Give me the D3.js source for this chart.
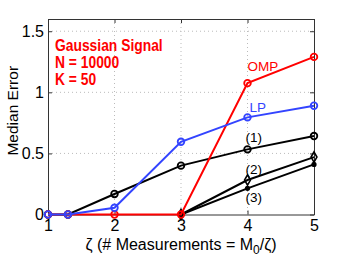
<!DOCTYPE html>
<html><head><meta charset="utf-8">
<script src="https://cdn.jsdelivr.net/npm/d3@7"></script>
<style>body{margin:0;background:#fff}svg{display:block;font-family:"Liberation Sans",Arial,sans-serif}</style>
</head><body><svg id="c" width="346" height="260"></svg>
<script>
const xTicks = [1, 2, 3, 4, 5];
const yTicks = [0, 0.5, 1, 1.5];
const yTickLabels = ["0", "0.5", "1", "1.5"];
const xOMP = [1, 1.3, 2, 3, 4, 5];
const yOMP = [0, 0, 0, 0, 1.075, 1.29];
const xLP = [1, 1.3, 2, 3, 4, 5];
const yLP = [0, 0, 0.055, 0.595, 0.795, 0.89];
const x1 = [1, 1.3, 2, 3, 4, 5];
const y1 = [0, 0, 0.168, 0.40, 0.533, 0.642];
const x2 = [3, 4, 5];
const y2 = [0, 0.282, 0.47];
const x3 = [3, 4, 5];
const y3 = [0, 0.214, 0.41];
const annot = ["Gaussian Signal", "N = 10000", "K = 50"];

const svg = d3.select("#c");
const L = 48, R = 314, T = 19, B = 214.5;
const x = d3.scaleLinear().domain([1, 5]).range([L, R]);
const y = d3.scaleLinear().domain([0, 1.6]).range([B, T]);

// grid
const g = svg.append("g");
g.selectAll(".gx").data(xTicks.slice(1, -1)).enter().append("line")
  .attr("x1", d => x(d)).attr("x2", d => x(d)).attr("y1", T).attr("y2", B)
  .attr("stroke", "#bbb").attr("stroke-width", 1).attr("stroke-dasharray", "1,3");
g.selectAll(".gy").data(yTicks.slice(1)).enter().append("line")
  .attr("y1", d => y(d)).attr("y2", d => y(d)).attr("x1", L).attr("x2", R)
  .attr("stroke", "#bbb").attr("stroke-width", 1).attr("stroke-dasharray", "1,3");

// axes with inward ticks
const ax = svg.append("g");
const xb = ax.append("g").attr("transform", `translate(0,${B})`)
  .call(d3.axisBottom(x).tickValues(xTicks).tickSizeInner(-4).tickSizeOuter(0).tickPadding(8).tickFormat(d3.format("d")));
const xt = ax.append("g").attr("transform", `translate(0,${T})`)
  .call(d3.axisTop(x).tickValues(xTicks).tickSizeInner(-4).tickSizeOuter(0).tickFormat(""));
const yl = ax.append("g").attr("transform", `translate(${L},0)`)
  .call(d3.axisLeft(y).tickValues(yTicks).tickSizeInner(-4).tickSizeOuter(0).tickPadding(4).tickFormat((d, i) => yTickLabels[i]));
const yr = ax.append("g").attr("transform", `translate(${R},0)`)
  .call(d3.axisRight(y).tickValues(yTicks).tickSizeInner(-4).tickSizeOuter(0).tickFormat(""));
[xb, xt, yl, yr].forEach(s => {
  s.selectAll("path").attr("stroke", "#333");
  s.selectAll("line").attr("stroke", "#333");
  s.selectAll("text").attr("font-size", 16).attr("fill", "#000").attr("font-family", "Liberation Sans, Arial, sans-serif");
});
xb.selectAll("text").attr("dy", "0.55em");

const line = d3.line().x(d => x(d[0])).y(d => y(d[1]));
function series(xs, ys, color, marker) {
  const pts = xs.map((v, i) => [v, ys[i]]);
  const s = svg.append("g");
  s.append("path").datum(pts).attr("d", line).attr("fill", "none")
    .attr("stroke", color).attr("stroke-width", 2);
  if (marker === "circle") {
    s.selectAll("circle").data(pts).enter().append("circle")
      .attr("cx", d => x(d[0])).attr("cy", d => y(d[1])).attr("r", 3.3)
      .attr("fill", "none").attr("stroke", color).attr("stroke-width", 1.8);
  } else if (marker === "diamond") {
    s.selectAll("path.m").data(pts).enter().append("path").attr("class", "m")
      .attr("d", d3.symbol(d3.symbolDiamond, 30))
      .attr("transform", d => `translate(${x(d[0])},${y(d[1])})`)
      .attr("fill", "none").attr("stroke", color).attr("stroke-width", 1.6);
  } else if (marker === "dot") {
    s.selectAll("circle").data(pts).enter().append("circle")
      .attr("cx", d => x(d[0])).attr("cy", d => y(d[1])).attr("r", 2.6)
      .attr("fill", color);
  }
}
series(x1, y1, "#000", "circle");
series(x2, y2, "#000", "diamond");
series(x3, y3, "#000", "dot");
series(xOMP, yOMP, "#ff0000", "circle");
series(xLP, yLP, "#3344ff", "circle");

// labels
const lab = (t, px, py, c) => svg.append("text").attr("x", px).attr("y", py).attr("font-size", 13.5).attr("fill", c).text(t);
lab("OMP", 247.5, 71, "#ff0000");
lab("LP", 249.5, 112, "#3344ff");
lab("(1)", 245.5, 142, "#000");
lab("(2)", 245.5, 173.5, "#000");
lab("(3)", 245.5, 202, "#000");

const ag = svg.append("g").attr("transform", "translate(55,0) scale(0.84,1)");
annot.forEach((t, i) => ag.append("text").attr("x", 0).attr("y", 50.7 + i * 17.3)
  .attr("font-size", 16.5).attr("font-weight", "bold").attr("fill", "#ff0000").text(t));

// axis titles
const xtitle = svg.append("text").attr("x", (L + R) / 2).attr("y", 250).attr("text-anchor", "middle")
  .attr("font-size", 16).attr("fill", "#000");
xtitle.append("tspan").text("ζ (# Measurements = M");
xtitle.append("tspan").attr("font-size", 12).attr("dy", 4).text("0");
xtitle.append("tspan").attr("dy", -4).text("/ζ)");

svg.append("text").attr("transform", `translate(18,${(T + B) / 2 - 6}) rotate(-90)`)
  .attr("text-anchor", "middle").attr("font-size", 15.5).attr("fill", "#000").text("Median Error");
</script></body></html>
